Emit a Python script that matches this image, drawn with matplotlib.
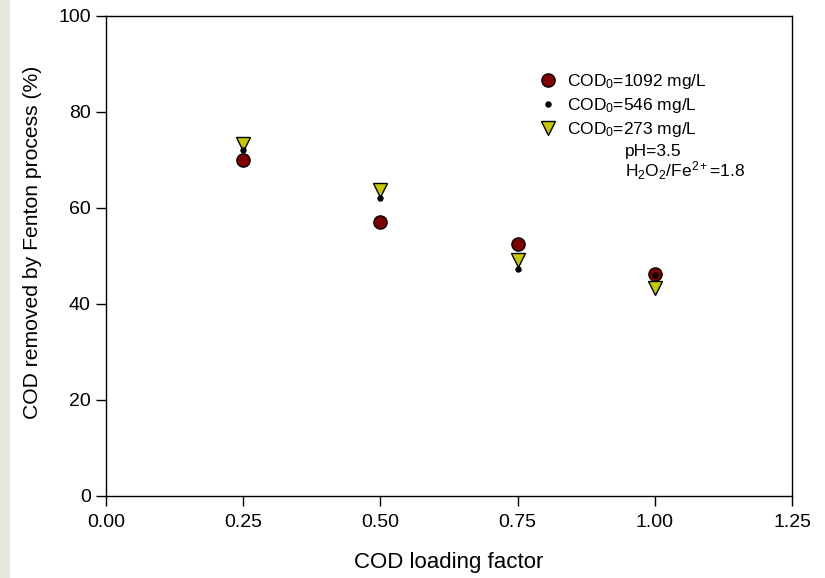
import matplotlib
matplotlib.use("Agg")
import matplotlib.pyplot as plt
from matplotlib.patches import Rectangle

plt.rcParams['font.family'] = ['Liberation Sans', 'DejaVu Sans']
plt.rcParams['mathtext.fontset'] = 'custom'
plt.rcParams['mathtext.rm'] = 'Liberation Sans'
plt.rcParams['mathtext.it'] = 'Liberation Sans'

# dados
fator = [0.25, 0.50, 0.75, 1.00]
cod_1092 = [70.1, 57.0, 52.5, 46.3]
cod_546 = [72.0, 62.0, 47.3, 46.0]
cod_273 = [73.3, 63.7, 49.1, 43.3]

rotulos = ['COD$_0$=1092 mg/L', 'COD$_0$=546 mg/L', 'COD$_0$=273 mg/L']
xticks = [0.00, 0.25, 0.50, 0.75, 1.00, 1.25]
yticks = [0, 20, 40, 60, 80, 100]

fig = plt.figure(figsize=(8.25, 5.78), dpi=100)
# faixa bege na esquerda
fig.patches.append(Rectangle((0, 0), 10 / 825, 1, transform=fig.transFigure,
                             facecolor='#e9e8de', edgecolor='none', zorder=0))

ax = fig.add_axes([106 / 825, 1 - 496 / 578, 686 / 825, 480 / 578])

ax.plot(fator, cod_1092, 'o', ms=9.5, mfc='#800000', mec='black', mew=1,
        label=rotulos[0], zorder=3)
ax.plot(fator, cod_546, 'o', ms=3.6, mfc='black', mec='black',
        label=rotulos[1], zorder=4)
ax.plot(fator, cod_273, 'v', ms=9.5, mfc='#c8c800', mec='black', mew=1,
        label=rotulos[2], zorder=3.5)

ax.set_xlim(0, 1.25)
ax.set_ylim(0, 100)
ax.set_xticks(xticks)
ax.set_xticklabels(['%.2f' % v for v in xticks])
ax.set_yticks(yticks)
ax.tick_params(direction='out', length=7, width=1, labelsize=14, pad=4)
ax.tick_params(axis='x', pad=6)
for s in ax.spines.values():
    s.set_linewidth(1)

ax.set_xlabel('COD loading factor', fontsize=16)
ax.xaxis.set_label_coords(0.5, -0.117)
ax.set_ylabel('COD removed by Fenton process (%)', fontsize=15.2)
ax.yaxis.set_label_coords(-0.094, 0.529)

ax.legend(loc='upper left', bbox_to_anchor=(0.615, 0.898), frameon=False,
          fontsize=12.5, handletextpad=0.35, labelspacing=0.28, handlelength=1.5,
          borderaxespad=0)

ax.text(0.757, 0.717, 'pH=3.5', transform=ax.transAxes, fontsize=12.5, va='center')
ax.text(0.757, 0.677, 'H$_2$O$_2$/Fe$^{2+}$=1.8', transform=ax.transAxes,
        fontsize=12.5, va='center')

fig.savefig('out.png', dpi=100)
